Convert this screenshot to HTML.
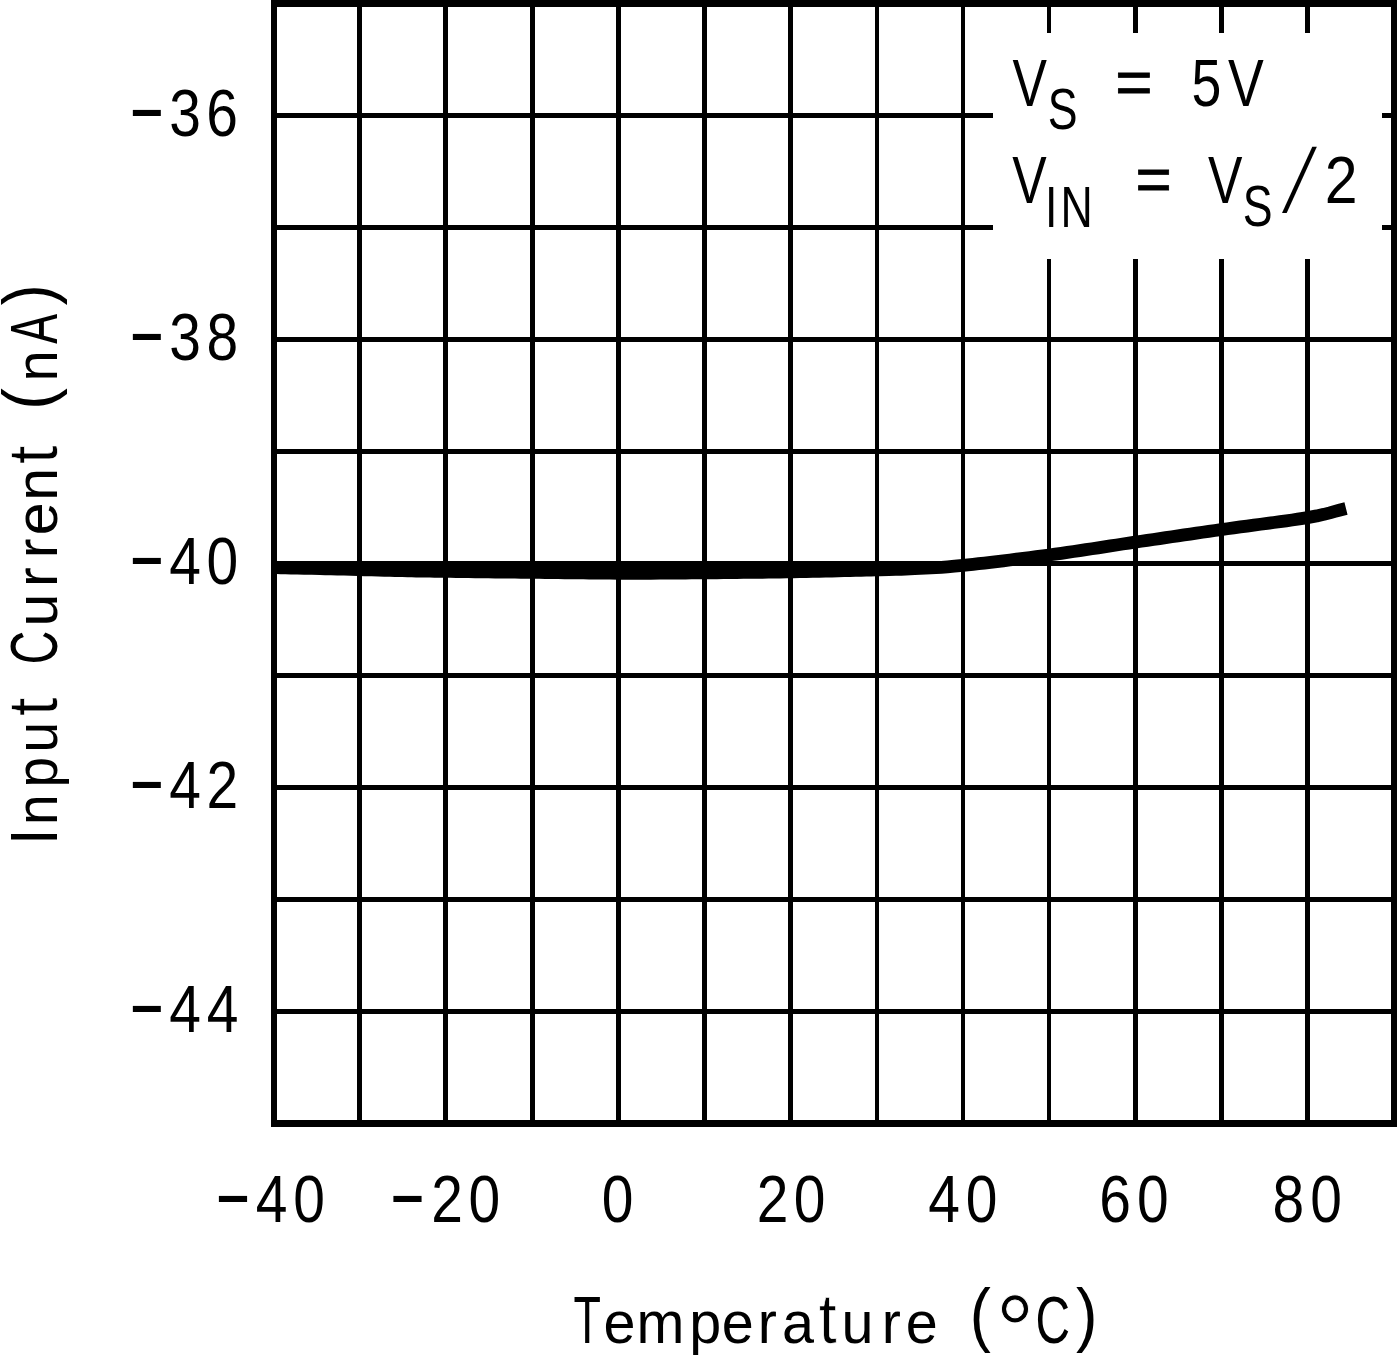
<!DOCTYPE html>
<html lang="en">
<head>
<meta charset="utf-8">
<title>Input Current vs Temperature</title>
<style>
html,body{margin:0;padding:0;background:#fff;}
body{width:1397px;height:1358px;overflow:hidden;}
svg{display:block;}
text{font-family:"Liberation Sans", sans-serif;fill:#000;}
.g rect{fill:#000;}
</style>
</head>
<body>
<svg width="1397" height="1358" viewBox="0 0 1397 1358">
<desc>Input Current (nA) vs Temperature (°C). VS = 5V, VIN = VS/2. Y axis: -36 -38 -40 -42 -44. X axis: -40 -20 0 20 40 60 80.</desc>
<rect x="0" y="0" width="1397" height="1358" fill="#fff"/>
<g class="g" shape-rendering="crispEdges">
<rect x="357" y="0" width="5" height="1127"/>
<rect x="443" y="0" width="5" height="1127"/>
<rect x="530" y="0" width="5" height="1127"/>
<rect x="616" y="0" width="5" height="1127"/>
<rect x="702" y="0" width="5" height="1127"/>
<rect x="788" y="0" width="5" height="1127"/>
<rect x="875" y="0" width="4" height="1127"/>
<rect x="961" y="0" width="4" height="1127"/>
<rect x="1047" y="0" width="4" height="1127"/>
<rect x="1133" y="0" width="5" height="1127"/>
<rect x="1219" y="0" width="5" height="1127"/>
<rect x="1305" y="0" width="5" height="1127"/>
<rect x="271" y="113" width="1126" height="5"/>
<rect x="271" y="225" width="1126" height="5"/>
<rect x="271" y="337" width="1126" height="5"/>
<rect x="271" y="449" width="1126" height="5"/>
<rect x="271" y="561" width="1126" height="5"/>
<rect x="271" y="673" width="1126" height="5"/>
<rect x="271" y="785" width="1126" height="5"/>
<rect x="271" y="897" width="1126" height="5"/>
<rect x="271" y="1009" width="1126" height="5"/>
<rect x="271" y="0" width="1126" height="7"/>
<rect x="271" y="1120" width="1126" height="7"/>
<rect x="271" y="0" width="6" height="1127"/>
<rect x="1391" y="0" width="6" height="1127"/>
</g>
<rect x="993" y="33" width="389" height="226" fill="#fff" shape-rendering="crispEdges"/>
<path d="M273 567.6 L277 567.7 L280.82 567.78 L285.51 567.87 L291.02 567.98 L297.29 568.1 L304.24 568.25 L311.84 568.41 L320 568.6 L325.26 568.73 L331.11 568.87 L337.44 569.03 L344.11 569.2 L351.01 569.38 L358 569.56 L364.97 569.74 L371.78 569.92 L378.31 570.09 L384.44 570.24 L390.05 570.38 L395 570.5 L402.57 570.68 L407.78 570.81 L411.88 570.91 L416.11 570.99 L421.74 571.08 L430 571.2 L434.51 571.26 L439.43 571.33 L444.73 571.39 L450.35 571.46 L456.26 571.54 L462.41 571.61 L468.75 571.68 L475.25 571.76 L481.85 571.83 L488.53 571.91 L495.22 571.98 L501.9 572.05 L508.5 572.13 L515 572.2 L520.75 572.26 L526.7 572.33 L532.84 572.4 L539.1 572.47 L545.46 572.55 L551.87 572.62 L558.29 572.69 L564.69 572.76 L571.01 572.83 L577.23 572.9 L583.3 572.96 L589.18 573.02 L594.83 573.07 L600.21 573.12 L605.28 573.16 L610 573.2 L617.92 573.26 L624.02 573.3 L628.97 573.33 L633.44 573.34 L638.1 573.33 L643.63 573.31 L650.71 573.26 L660 573.2 L664.44 573.17 L669.25 573.13 L674.4 573.09 L679.84 573.05 L685.55 573.01 L691.49 572.96 L697.62 572.91 L703.92 572.85 L710.35 572.8 L716.88 572.74 L723.46 572.67 L730.08 572.61 L736.69 572.54 L743.27 572.47 L749.77 572.4 L756.16 572.32 L762.41 572.25 L768.49 572.17 L774.37 572.08 L780 572 L786.5 571.9 L793.05 571.78 L799.61 571.66 L806.18 571.53 L812.71 571.4 L819.19 571.27 L825.59 571.13 L831.89 570.98 L838.07 570.84 L844.1 570.7 L849.95 570.56 L855.6 570.42 L861.02 570.28 L866.2 570.15 L871.11 570.03 L875.71 569.91 L880 569.8 L888.84 569.57 L895.71 569.39 L901.18 569.23 L905.8 569.07 L910.1 568.89 L914.65 568.68 L920 568.4 L925.61 568.12 L930.81 567.88 L935.96 567.61 L941.41 567.29 L947.49 566.84 L954.57 566.23 L963 565.4 L967.82 564.89 L973.03 564.32 L978.58 563.7 L984.44 563.04 L990.54 562.33 L996.85 561.59 L1003.31 560.81 L1009.89 560.01 L1016.52 559.19 L1023.17 558.36 L1029.8 557.52 L1036.34 556.68 L1042.76 555.83 L1049 555 L1055.14 554.16 L1061.29 553.3 L1067.43 552.41 L1073.57 551.51 L1079.71 550.6 L1085.86 549.67 L1092 548.74 L1098.14 547.8 L1104.29 546.86 L1110.43 545.91 L1116.57 544.97 L1122.71 544.04 L1128.86 543.11 L1135 542.2 L1141.14 541.29 L1147.28 540.38 L1153.42 539.48 L1159.56 538.57 L1165.69 537.66 L1171.83 536.75 L1177.97 535.85 L1184.11 534.95 L1190.25 534.05 L1196.39 533.15 L1202.54 532.26 L1208.69 531.37 L1214.84 530.48 L1221 529.6 L1227.28 528.72 L1233.75 527.83 L1240.37 526.94 L1247.08 526.04 L1253.82 525.15 L1260.56 524.26 L1267.22 523.38 L1273.76 522.51 L1280.13 521.65 L1286.27 520.8 L1292.13 519.97 L1297.66 519.16 L1302.8 518.37 L1307.5 517.6 L1316.69 515.92 L1323.89 514.35 L1329.75 512.87 L1334.94 511.43 L1340.14 509.98 L1346 508.5" fill="none" stroke="#000" stroke-width="12.8" stroke-linecap="butt" stroke-linejoin="round"/>
<rect x="277" y="563" width="690" height="8" fill="#000" shape-rendering="crispEdges"/>
<text transform="scale(0.85,1)" y="136" font-size="67"><tspan x="150.24" dy="-2.3" font-size="78" textLength="44.93" lengthAdjust="spacingAndGlyphs">-</tspan><tspan x="199.21 242.79" dy="2.3">36</tspan></text>
<text transform="scale(0.85,1)" y="360" font-size="67"><tspan x="150.24" dy="-2.3" font-size="78" textLength="44.93" lengthAdjust="spacingAndGlyphs">-</tspan><tspan x="199.21 243.02" dy="2.3">38</tspan></text>
<text transform="scale(0.85,1)" y="584" font-size="67"><tspan x="150.24" dy="-2.3" font-size="78" textLength="44.93" lengthAdjust="spacingAndGlyphs">-</tspan><tspan x="199.23 243.02" dy="2.3">40</tspan></text>
<text transform="scale(0.85,1)" y="808" font-size="67"><tspan x="150.24" dy="-2.3" font-size="78" textLength="44.93" lengthAdjust="spacingAndGlyphs">-</tspan><tspan x="199.23 243.02" dy="2.3">42</tspan></text>
<text transform="scale(0.85,1)" y="1032" font-size="67"><tspan x="150.24" dy="-2.3" font-size="78" textLength="44.93" lengthAdjust="spacingAndGlyphs">-</tspan><tspan x="199.23 243.23" dy="2.3">44</tspan></text>
<text transform="scale(0.85,1)" y="1222" font-size="67"><tspan x="251.37" dy="-2.3" font-size="78" textLength="45.25" lengthAdjust="spacingAndGlyphs">-</tspan><tspan x="300.82 345.02" dy="2.3">40</tspan></text>
<text transform="scale(0.85,1)" y="1222" font-size="67"><tspan x="456.9" dy="-2.3" font-size="78" textLength="45.25" lengthAdjust="spacingAndGlyphs">-</tspan><tspan x="507.25 551.07" dy="2.3">20</tspan></text>
<text transform="scale(0.85,1)" x="708.07" y="1222" font-size="67">0</text>
<text transform="scale(0.85,1)" x="890.37 933.84" y="1222" font-size="67">20</text>
<text transform="scale(0.85,1)" x="1091.93 1136.25" y="1222" font-size="67">40</text>
<text transform="scale(0.85,1)" x="1293.32 1337.6" y="1222" font-size="67">60</text>
<text transform="scale(0.85,1)" x="1497.02 1541.49" y="1222" font-size="67">80</text>
<text transform="scale(0.9583,1)" y="1343" font-size="60"><tspan x="598.54" font-size="67" textLength="28.63" lengthAdjust="spacingAndGlyphs">T</tspan><tspan x="629.71 664.28 719.14 753.16 790.65 816.05">empera</tspan><tspan x="854.33" font-size="70" textLength="18.73" lengthAdjust="spacingAndGlyphs" stroke="#fff" stroke-width="0.7">t</tspan><tspan x="878.21 920.25 945.11">ure</tspan></text>
<text><tspan x="969.67" y="1338.1" font-size="70.3" textLength="21.1" lengthAdjust="spacingAndGlyphs">(</tspan><tspan x="995.71" y="1365.53" font-size="102.8" textLength="38.52" lengthAdjust="spacingAndGlyphs" stroke="#fff" stroke-width="0.9">°</tspan><tspan x="1035.57" y="1343" font-size="66" textLength="34.55" lengthAdjust="spacingAndGlyphs">C</tspan><tspan x="1075.92" y="1338.1" font-size="70.3" textLength="21.48" lengthAdjust="spacingAndGlyphs">)</tspan></text>
<text transform="translate(57,1358) rotate(-90) scale(0.9171,1)" y="0" font-size="60"><tspan x="559.4" font-size="67" textLength="17.86" lengthAdjust="spacingAndGlyphs">I</tspan><tspan x="581.32 622.12 660.19">npu</tspan><tspan x="699.99" font-size="70" textLength="20.17" lengthAdjust="spacingAndGlyphs" stroke="#fff" stroke-width="0.7">t</tspan></text>
<text transform="translate(57,1358) rotate(-90) scale(0.9851,1)" y="0" font-size="60"><tspan x="704.17" font-size="66" textLength="34.03" lengthAdjust="spacingAndGlyphs">C</tspan><tspan x="742.61 782.68 811.82 835.1 870.18">urren</tspan><tspan x="907.55" font-size="70" textLength="18.78" lengthAdjust="spacingAndGlyphs" stroke="#fff" stroke-width="0.7">t</tspan></text>
<text transform="translate(57,1358) rotate(-90)"><tspan x="948.18" y="-5" font-size="70.3" textLength="21.6" lengthAdjust="spacingAndGlyphs">(</tspan><tspan x="976.48" y="0" font-size="60" textLength="31.16" lengthAdjust="spacingAndGlyphs">n</tspan><tspan x="1014.31" y="0" font-size="66" textLength="29.87" lengthAdjust="spacingAndGlyphs">A</tspan><tspan x="1052.63" y="-5" font-size="70.3" textLength="20.85" lengthAdjust="spacingAndGlyphs">)</tspan></text>
<text transform="scale(0.77,1)"><tspan x="1314.86" y="106" font-size="67">V</tspan><tspan x="1360.74" y="128.7" font-size="58">S</tspan></text>
<text transform="scale(1.03,1)" stroke="#000" stroke-width="0.8"><tspan x="1082.88" y="102.9" font-size="62">=</tspan></text>
<text transform="scale(0.8,1)"><tspan x="1489.5 1534.97" y="106" font-size="67">5V</tspan></text>
<text transform="scale(0.77,1)"><tspan x="1314.67" y="202.7" font-size="67">V</tspan><tspan x="1357.27 1377.16" y="227" font-size="58">IN</tspan></text>
<text transform="scale(1,1)" stroke="#000" stroke-width="0.8"><tspan x="1135.46" y="199.7" font-size="62">=</tspan></text>
<text transform="scale(0.77,1)"><tspan x="1568.69" y="202.7" font-size="67">V</tspan><tspan x="1614.11" y="226.5" font-size="58">S</tspan></text>
<text transform="translate(1282.3,212) skewX(-15.5) scale(0.66,1)" x="0" y="0" font-size="90">/</text>
<text transform="scale(0.88,1)"><tspan x="1505.4" y="203" font-size="67">2</tspan></text>
</svg>
</body>
</html>
